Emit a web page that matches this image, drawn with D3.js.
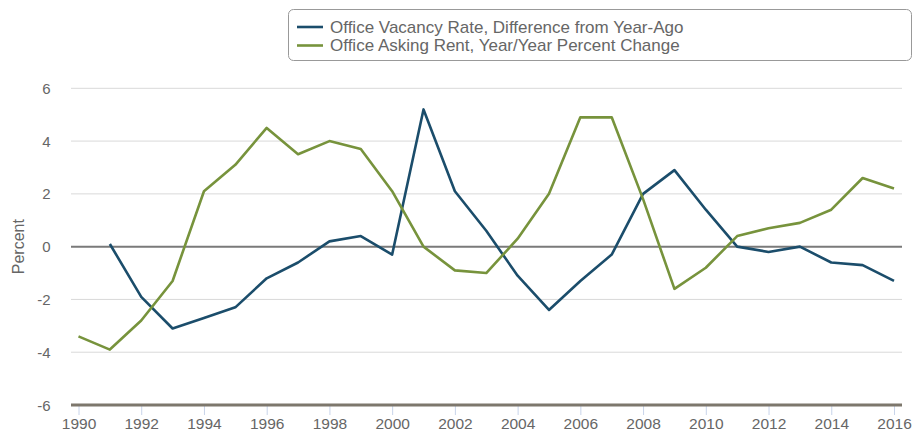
<!DOCTYPE html>
<html><head><meta charset="utf-8">
<script src="https://cdn.jsdelivr.net/npm/d3@7"></script>
<style>body{margin:0;background:#fff;}svg{display:block;font-family:"Liberation Sans",Arial,sans-serif;}</style>
</head><body><svg id="c" width="920" height="434"></svg>
<script>
const years = d3.range(1990, 2017);
const vacancy = [null,0.1,-1.9,-3.1,-2.7,-2.3,-1.2,-0.6,0.2,0.4,-0.3,5.2,2.1,0.6,-1.1,-2.4,-1.3,-0.3,2.0,2.9,1.4,0.0,-0.2,0.0,-0.6,-0.7,-1.3];
const rent = [-3.4,-3.9,-2.8,-1.3,2.1,3.1,4.5,3.5,4.0,3.7,2.1,0.0,-0.9,-1.0,0.3,2.0,4.9,4.9,1.8,-1.6,-0.8,0.4,0.7,0.9,1.4,2.6,2.2];
const yTicks = [-6,-4,-2,0,2,4,6];
const xTicks = d3.range(1990, 2017, 2);
const seriesNames = ["Office Vacancy Rate, Difference from Year-Ago","Office Asking Rent, Year/Year Percent Change"];
const colors = ["#1b4d6b","#77933c"];

const svg = d3.select("#c");
const x = d3.scaleLinear().domain([1990,2016]).range([78.5,894]);
const y = d3.scaleLinear().domain([-6,6]).range([405,88.3]);
const gL = 71, gR = 902;
const txt = "#666";

svg.append("g").selectAll("line").data(yTicks.filter(d=>d!==-6 && d!==0)).join("line")
  .attr("x1",gL).attr("x2",gR).attr("y1",d=>y(d)).attr("y2",d=>y(d))
  .attr("stroke","#d9d9d9").attr("stroke-width",1);
svg.append("line").attr("x1",gL).attr("x2",gR).attr("y1",y(0)).attr("y2",y(0))
  .attr("stroke","#7a7a7a").attr("stroke-width",2);

svg.append("g").selectAll("text").data(yTicks).join("text")
  .attr("x",50.5).attr("y",d=>y(d)+5.5).attr("text-anchor","end")
  .attr("font-size",15).attr("fill",txt).text(d=>d);
svg.append("text").attr("transform","translate(23.5,"+y(0)+") rotate(-90)")
  .attr("text-anchor","middle").attr("font-size",16).attr("fill",txt).text("Percent");

const xa = svg.append("g").attr("transform","translate(0,"+y(-6)+")")
  .call(d3.axisBottom(x).tickValues(xTicks).tickFormat(d3.format("d")).tickSize(10).tickPadding(3));
xa.select(".domain").remove();
xa.selectAll(".tick line").attr("stroke","#c8d4ea");
xa.selectAll(".tick text").attr("font-size",15.5).attr("fill",txt).attr("font-family","Liberation Sans, Arial, sans-serif");
svg.append("line").attr("x1",gL).attr("x2",gR).attr("y1",y(-6)).attr("y2",y(-6))
  .attr("stroke","#7d776c").attr("stroke-width",3);

const line = d3.line().defined(d=>d[1]!==null).x(d=>x(d[0])).y(d=>y(d[1]));
[vacancy, rent].forEach((s,i)=>{
  svg.append("path").datum(years.map((yr,j)=>[yr,s[j]]))
    .attr("d",line).attr("fill","none").attr("stroke",colors[i]).attr("stroke-width",2.6)
    .attr("stroke-linejoin","round");
});

const lg = svg.append("g");
lg.append("rect").attr("x",288.5).attr("y",9.5).attr("width",623).attr("height",51).attr("rx",5)
  .attr("fill","#fff").attr("stroke","#999").attr("stroke-width",1);
seriesNames.forEach((n,i)=>{
  const yy = 27 + i*18.5;
  lg.append("line").attr("x1",297).attr("x2",323).attr("y1",yy).attr("y2",yy)
    .attr("stroke",colors[i]).attr("stroke-width",2.6);
  lg.append("text").attr("x",330).attr("y",yy+5.5).attr("font-size",17).attr("fill",txt).text(n);
});
</script></body></html>
